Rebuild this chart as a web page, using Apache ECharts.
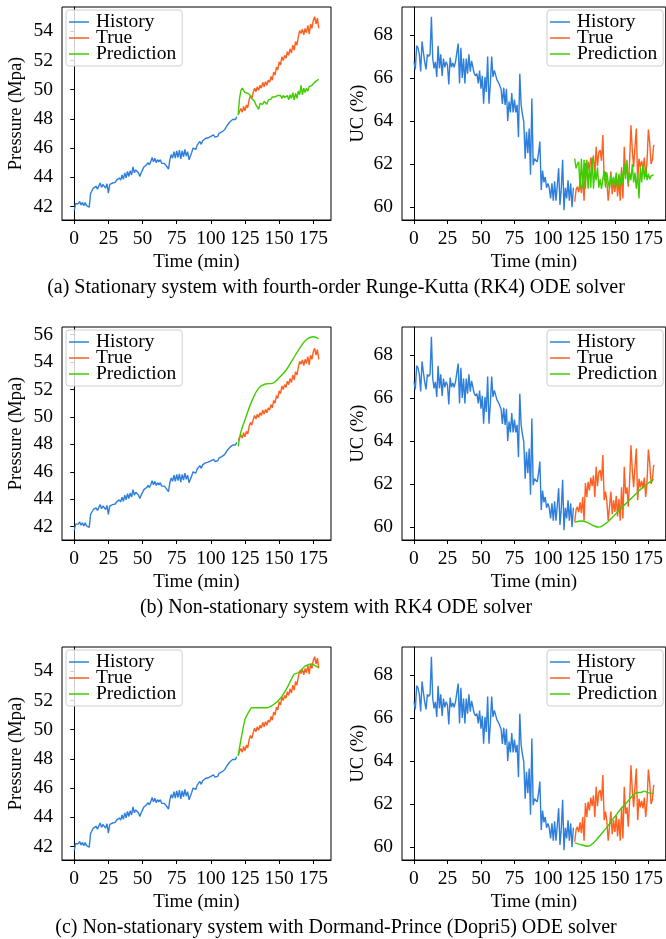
<!DOCTYPE html>
<html><head><meta charset="utf-8">
<script src="https://cdn.jsdelivr.net/npm/echarts@6/dist/echarts.min.js"></script>
<style>html,body{margin:0;padding:0;background:#fff;overflow:hidden}#c{width:666px;height:939px}</style>
</head><body><div id="c"></div>
<script>
// ---------- DATA ----------
const historyStart = 0;          // minutes
const forecastStart = 120;       // minutes
const xTickLabels = [0, 25, 50, 75, 100, 125, 150, 175];
const pressureTicksShort = [42, 44, 46, 48, 50, 52, 54];
const pressureTicksLong = [42, 44, 46, 48, 50, 52, 54, 56];
const ucTicks = [60, 62, 64, 66, 68];
const seriesNames = ['History', 'True', 'Prediction'];
const captions = [
  '(a) Stationary system with fourth-order Runge-Kutta (RK4) ODE solver',
  '(b) Non-stationary system with RK4 ODE solver',
  '(c) Non-stationary system with Dormand-Prince (Dopri5) ODE solver'
];

// Pressure history, t = 0..119
const pressureHistory = [
  41.73,42.18,42.27,42.18,42.34,42.10,42.27,42.05,42.27,42.05,
  42.18,41.95,42.90,43.00,43.25,43.15,43.37,43.18,43.40,43.60,
  43.30,43.50,43.55,43.25,43.55,42.90,43.50,43.40,43.60,43.70,
  43.65,43.80,43.80,43.95,43.80,44.15,43.85,44.30,43.95,44.40,
  44.05,44.45,44.15,44.70,44.30,44.50,44.40,44.30,44.05,44.30,
  44.50,44.70,44.80,44.85,45.00,44.85,45.05,45.35,45.05,45.30,
  45.00,45.20,45.05,45.20,44.95,45.05,44.95,45.05,44.70,44.55,
  45.20,45.55,45.30,45.75,45.30,45.80,45.35,45.85,45.25,45.80,
  45.40,45.90,45.45,45.75,45.20,45.10,45.70,46.00,46.10,45.90,
  46.20,46.10,46.45,46.25,46.50,46.40,46.65,46.55,46.70,46.60,
  46.80,46.70,46.90,46.75,46.85,46.80,47.00,46.90,47.10,47.05,
  47.25,47.35,47.55,47.50,47.80,47.75,47.95,48.00,47.95,48.15
];
// Pressure true, t = 120..179
const pressureTrue = [
  48.26,48.50,48.70,48.45,48.85,48.55,48.95,48.75,49.30,49.60,
  49.40,49.80,50.10,49.85,50.20,49.95,50.30,50.10,50.50,50.20,
  50.55,50.30,50.65,50.50,50.90,50.65,51.20,51.00,51.55,51.35,
  51.90,51.70,52.25,52.00,52.35,52.15,52.60,52.35,52.80,52.50,
  53.05,52.70,53.30,53.05,53.60,54.05,53.85,54.15,53.75,54.20,
  53.90,54.40,53.80,54.50,54.20,54.75,55.00,54.50,54.90,54.20
];
// Pressure prediction, stationary RK4, t = 120..179
const pressurePredStationary = [
  48.26,49.40,49.95,50.10,50.10,49.80,49.90,49.75,49.80,49.60,
  49.40,49.50,49.20,48.95,49.05,48.65,49.05,49.10,49.00,49.20,
  49.10,49.00,49.30,49.40,49.35,49.50,49.40,49.50,49.45,49.60,
  49.50,49.60,49.40,49.60,49.45,49.50,49.60,49.30,49.65,49.40,
  49.80,49.30,49.75,49.40,49.90,49.65,50.30,49.65,50.10,49.80,
  50.10,49.90,50.20,50.10,50.30,50.35,50.50,50.60,50.65,50.70
];
// Pressure prediction, non-stationary RK4
const pressurePredRK4Times = [120,122,125,130,135,140,145,150,155,160,165,170,175,179];
const pressurePredRK4 = [47.85,48.90,49.80,51.15,52.10,52.40,52.45,52.85,53.40,54.20,55.00,55.65,55.85,55.70];
// Pressure prediction, non-stationary Dopri5
const pressurePredDopriTimes = [120,122,125,128,130,135,141,146,151,156,161,164,169,174,177,179];
const pressurePredDopri = [48.20,49.30,50.70,51.25,51.50,51.50,51.50,51.72,52.15,52.90,53.80,53.90,54.35,54.50,54.35,54.25];

// UC history, t = 0..119
const ucHistory = [
  66.76,66.40,67.50,67.40,67.10,66.30,67.70,67.20,66.75,66.40,
  67.10,67.00,67.10,68.85,66.90,66.45,66.75,66.05,67.50,66.45,
  67.10,66.10,66.90,66.50,66.75,66.60,65.70,66.95,66.50,66.70,
  66.50,66.75,66.80,67.60,65.75,67.40,66.00,66.90,65.75,66.90,
  66.20,67.10,66.30,66.80,66.50,66.20,66.10,66.20,65.75,66.35,
  65.50,66.10,64.80,66.05,65.35,67.00,64.80,65.70,67.00,66.05,
  66.35,66.35,65.90,65.80,65.80,65.50,64.80,65.55,64.75,65.50,
  64.00,64.90,64.40,65.30,64.40,65.00,64.40,64.75,63.25,66.20,
  64.75,64.30,63.95,62.25,63.50,62.50,63.65,61.50,65.05,61.95,
  62.25,62.30,62.10,62.50,63.05,60.80,61.70,61.15,61.40,60.90,
  61.10,60.90,60.40,61.10,60.30,61.20,60.30,61.00,61.80,60.10,
  60.90,62.20,59.85,60.90,60.40,61.25,60.30,61.10,60.00,60.90
];
// UC true, t = 120..179
const ucTrue = [
  60.25,60.80,60.95,60.70,61.15,60.65,61.40,60.30,62.05,61.40,
  62.10,61.70,62.30,61.90,62.40,61.40,62.80,61.90,62.55,62.65,
  62.15,63.35,61.25,61.65,61.20,60.30,60.95,61.65,60.60,61.25,
  60.70,61.45,60.50,61.30,60.30,61.85,60.40,62.80,61.55,61.85,
  60.95,62.15,63.80,62.65,61.85,62.80,63.65,61.25,62.25,61.85,
  62.15,61.80,62.30,61.40,62.10,63.60,63.00,62.00,62.20,62.90
];
// UC prediction, stationary RK4, t = 120..179
const ucPredStationary = [
  62.25,61.80,62.00,62.10,60.85,62.25,60.90,62.20,60.85,62.20,
  60.85,62.00,60.90,62.30,60.85,61.70,61.25,61.85,60.90,61.30,
  60.85,61.30,61.70,60.90,61.60,61.15,60.85,61.50,61.10,61.40,
  61.00,61.60,60.85,61.55,61.00,61.70,61.10,61.95,61.30,62.20,
  61.10,61.60,61.25,62.00,61.15,61.60,60.85,61.60,60.40,61.85,
  61.15,62.00,61.30,61.85,61.25,61.55,61.30,61.45,61.50,61.50
];
// UC prediction, non-stationary RK4
const ucPredRK4Times = [120,125,130,135,138,140,145,150,155,160,165,170,175,179];
const ucPredRK4 = [60.22,60.28,60.20,60.04,60.00,60.03,60.26,60.57,60.90,61.20,61.50,61.80,62.05,62.22];
// UC prediction, non-stationary Dopri5
const ucPredDopriTimes = [120,125,130,135,140,145,150,155,160,165,170,172,175,179];
const ucPredDopri = [60.20,60.10,60.04,60.26,60.62,61.00,61.42,61.82,62.15,62.50,62.55,62.60,62.52,62.50];

// ---------- BUILD ----------
const FONT = '"Liberation Serif", "Times New Roman", serif';
const COLORS = {History: '#2e7fdc', True: '#ff5f1f', Prediction: '#3fcc00'};
const seq = (arr, start) => arr.map((v, i) => [start + i, v]);
const pairs = (ts, vs) => ts.map((t, i) => [t, vs[i]]);

const histP = seq(pressureHistory, historyStart);
const trueP = seq(pressureTrue, forecastStart);
const histU = seq(ucHistory, historyStart);
const trueU = seq(ucTrue, forecastStart);

const panels = [
  {kind: 'P', pred: seq(pressurePredStationary, forecastStart), ticks: pressureTicksShort, smooth: false},
  {kind: 'U', pred: seq(ucPredStationary, forecastStart), ticks: ucTicks, smooth: false},
  {kind: 'P', pred: pairs(pressurePredRK4Times, pressurePredRK4), ticks: pressureTicksLong, smooth: 0.4},
  {kind: 'U', pred: pairs(ucPredRK4Times, ucPredRK4), ticks: ucTicks, smooth: 0.4},
  {kind: 'P', pred: pairs(pressurePredDopriTimes, pressurePredDopri), ticks: pressureTicksShort, smooth: 0.2},
  {kind: 'U', pred: pairs(ucPredDopriTimes, ucPredDopri), ticks: ucTicks, smooth: 0.3}
];

const grids = [], xAxes = [], yAxes = [], series = [], legends = [], graphics = [];
const xMinData = 0, xMaxData = 179;
const xm = (xMaxData - xMinData) * 0.05;
const TICK_FS = 19.5, LEG_FS = 19.5, NAME_FS = 19, YNAME_FS = 18.5, CAP_FS = 20;

panels.forEach((p, i) => {
  const row = Math.floor(i / 2), col = i % 2;
  const top = 7 + row * 320;
  const g = {top: top, height: 213, show: true,
    borderColor: '#000', borderWidth: 1, backgroundColor: 'transparent'};
  if (col === 0) { g.left = 62; g.width = 269; } else { g.left = 402; g.right = -4; }
  grids.push(g);
  const hist = p.kind === 'P' ? histP : histU;
  const tru = p.kind === 'P' ? trueP : trueU;
  const all = hist.concat(tru, p.pred).map(d => d[1]);
  const lo = Math.min(...all), hi = Math.max(...all);
  const ym = (hi - lo) * 0.05;
  xAxes.push({type: 'value', gridIndex: i, min: xMinData - xm, max: xMaxData + xm,
    splitLine: {show: false},
    axisLine: {lineStyle: {color: '#000', width: 1}},
    axisTick: {show: true, length: 4, lineStyle: {color: '#000'}, customValues: xTickLabels},
    axisLabel: {customValues: xTickLabels, color: '#000', fontFamily: FONT, fontSize: TICK_FS, margin: 9},
    name: 'Time (min)', nameLocation: 'middle', nameGap: 33,
    nameTextStyle: {color: '#000', fontFamily: FONT, fontSize: NAME_FS}
  });
  yAxes.push({type: 'value', gridIndex: i, min: lo - ym, max: hi + ym,
    splitLine: {show: false},
    axisLine: {show: true, lineStyle: {color: '#000', width: 1}},
    axisTick: {show: true, length: 4, lineStyle: {color: '#000'}, customValues: p.ticks},
    axisLabel: {customValues: p.ticks, color: '#000', fontFamily: FONT, fontSize: TICK_FS, margin: 9},
    name: p.kind === 'P' ? 'Pressure (Mpa)' : 'UC (%)', nameLocation: 'middle',
    nameGap: p.kind === 'P' ? 36 : 34,
    nameTextStyle: {color: '#000', fontFamily: FONT, fontSize: YNAME_FS}
  });
  const common = {type: 'line', xAxisIndex: i, yAxisIndex: i, symbol: 'none', animation: false};
  series.push(Object.assign({}, common, {name: 'History', data: hist,
    lineStyle: {color: COLORS.History, width: 1.4}, itemStyle: {color: COLORS.History}}));
  series.push(Object.assign({}, common, {name: 'True', data: tru,
    lineStyle: {color: COLORS.True, width: 1.4}, itemStyle: {color: COLORS.True}}));
  series.push(Object.assign({}, common, {name: 'Prediction', data: p.pred, smooth: p.smooth,
    lineStyle: {color: COLORS.Prediction, width: 1.4}, itemStyle: {color: COLORS.Prediction}}));
  legends.push({data: seriesNames, orient: 'vertical', left: col === 0 ? 66 : 547, top: top + 3,
    icon: 'rect', itemWidth: 20, itemHeight: 1.5, itemGap: -4,
    padding: [2, 6, 2, 3], borderColor: '#cccccc', borderWidth: 1, borderRadius: 3,
    backgroundColor: 'rgba(255,255,255,0.8)', selectedMode: false,
    textStyle: {color: '#000', fontFamily: FONT, fontSize: LEG_FS, padding: [0, 0, 0, 2]}
  });
});

captions.forEach((c, r) => {
  graphics.push({type: 'text', style: {text: c, x: 336, y: 288 + r * 320,
    align: 'center', verticalAlign: 'middle', fill: '#000', fontFamily: FONT, fontSize: CAP_FS}});
});

const chart = echarts.init(document.getElementById('c'), null, {renderer: 'canvas'});
chart.setOption({
  backgroundColor: '#fff', animation: false,
  grid: grids, xAxis: xAxes, yAxis: yAxes, series: series, legend: legends, graphic: graphics
});
</script></body></html>
